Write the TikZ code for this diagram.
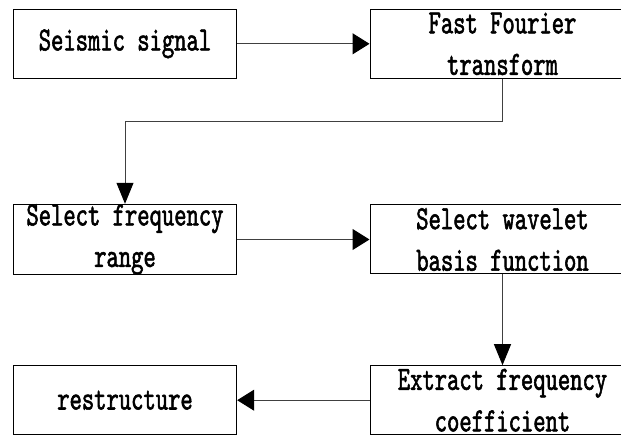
\documentclass[tikz,border=0pt]{standalone}
\usepackage{fontspec}
\usetikzlibrary{arrows.meta}
\newfontfamily\boxfont[Extension=.otf,FakeStretch=0.69,FakeBold=1.6]{lmmono10-regular}
\begin{document}
\begin{tikzpicture}[x=1pt,y=-1pt,
  flowbox/.style={draw=black,line width=1pt,inner sep=0pt,align=center,
    font=\boxfont\fontsize{34pt}{41.5pt}\selectfont},
  leftbox/.style={flowbox,minimum width=223.4pt,minimum height=69pt},
  rightbox/.style={flowbox,minimum width=265pt,minimum height=69pt},
  hconn/.style={draw=black!75,line width=1pt,-{Triangle[length=17pt,width=21pt,color=black]}},
  vconn/.style={draw=black!75,line width=1pt,-{Triangle[length=21pt,width=17pt,color=black]}}]
\useasboundingbox (0,0) rectangle (621,435);
\clip (0,0) rectangle (621,435);
\node[leftbox]  (b1) at (125,43.8)    {Seismic signal};
\node[rightbox] (b2) at (502.5,43.8)  {Fast Fourier\\transform};
\node[leftbox]  (b3) at (125,239.5)   {Select frequency\\range};
\node[rightbox] (b4) at (502.5,239.5) {Select wavelet\\basis function};
\node[rightbox] (b5) at (502.5,400.2) {Extract frequency\\coefficient};
\node[leftbox]  (b6) at (125,400.2)   {restructure};
\coordinate (k1) at (502.5,121.7);
\coordinate (k2) at (125,121.7);
\draw[hconn] (b1) -- (b2);
\draw[vconn] (b2.south) -- (k1) -- (k2) -- (b3.north);
\draw[hconn] (b3) -- (b4);
\draw[vconn] (b4) -- (b5);
\draw[hconn] (b5) -- (b6);
\end{tikzpicture}
\end{document}
